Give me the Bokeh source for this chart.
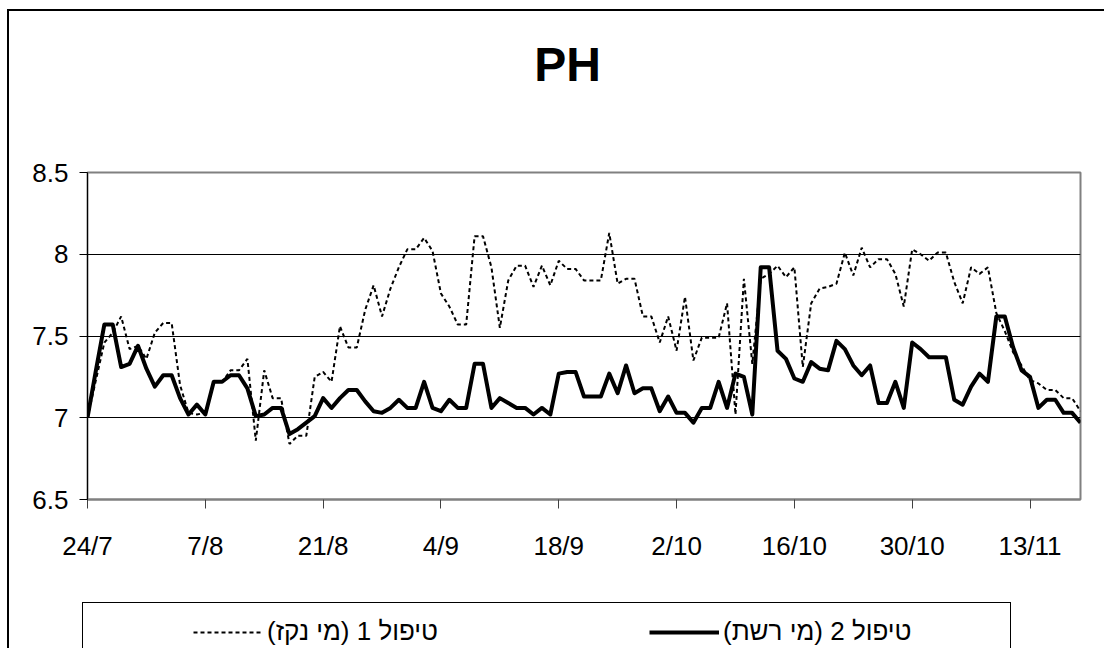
from bokeh.plotting import figure
from bokeh.layouts import column
from bokeh.models import Range1d, FixedTicker, Legend, LegendItem, Label
from bokeh.embed import file_html
from bokeh.resources import INLINE

# ---------------- data ----------------
title_text = "PH"
series_names = ["טיפול 1 (מי נקז)", "טיפול 2 (מי רשת)"]

# day index counted from 24/7 (daily readings)
days = list(range(119))

treat1 = [7.00, 7.23, 7.46, 7.52, 7.62, 7.42, 7.44, 7.36, 7.52, 7.58,
          7.58, 7.20, 7.03, 7.02, 7.03, 7.22, 7.22, 7.29, 7.29, 7.36,
          6.86, 7.29, 7.12, 7.12, 6.84, 6.89, 6.89, 7.25, 7.28, 7.22,
          7.56, 7.43, 7.43, 7.66, 7.81, 7.62, 7.79, 7.92, 8.03, 8.03,
          8.10, 8.02, 7.76, 7.68, 7.57, 7.57, 8.11, 8.11, 7.92, 7.55,
          7.84, 7.93, 7.93, 7.80, 7.93, 7.81, 7.96, 7.91, 7.91, 7.84,
          7.84, 7.84, 8.13, 7.82, 7.85, 7.85, 7.62, 7.62, 7.46, 7.62,
          7.41, 7.74, 7.35, 7.49, 7.49, 7.49, 7.70, 7.02, 7.85, 7.33,
          7.85, 7.88, 7.93, 7.86, 7.92, 7.31, 7.70, 7.79, 7.80, 7.82,
          8.01, 7.87, 8.04, 7.92, 7.97, 7.97, 7.88, 7.68, 8.03, 8.00,
          7.96, 8.01, 8.01, 7.83, 7.70, 7.92, 7.88, 7.92, 7.64, 7.53,
          7.40, 7.32, 7.23, 7.21, 7.17, 7.17, 7.12, 7.12, 7.04]

treat2 = [7.00, 7.29, 7.57, 7.57, 7.31, 7.33, 7.44, 7.30, 7.19, 7.26,
          7.26, 7.12, 7.02, 7.08, 7.02, 7.22, 7.22, 7.26, 7.26, 7.18,
          7.01, 7.02, 7.06, 7.06, 6.90, 6.93, 6.97, 7.01, 7.12, 7.06,
          7.12, 7.17, 7.17, 7.10, 7.04, 7.03, 7.06, 7.11, 7.06, 7.06,
          7.22, 7.06, 7.04, 7.11, 7.06, 7.06, 7.33, 7.33, 7.06, 7.12,
          7.09, 7.06, 7.06, 7.02, 7.06, 7.02, 7.27, 7.28, 7.28, 7.13,
          7.13, 7.13, 7.27, 7.15, 7.32, 7.15, 7.18, 7.18, 7.04, 7.13,
          7.03, 7.03, 6.97, 7.06, 7.06, 7.22, 7.06, 7.27, 7.25, 7.02,
          7.92, 7.92, 7.41, 7.36, 7.24, 7.22, 7.34, 7.30, 7.29, 7.47,
          7.42, 7.32, 7.26, 7.32, 7.09, 7.09, 7.22, 7.06, 7.46, 7.42,
          7.37, 7.37, 7.37, 7.11, 7.08, 7.19, 7.27, 7.22, 7.62, 7.62,
          7.43, 7.29, 7.25, 7.06, 7.11, 7.11, 7.03, 7.03, 6.97]

x_tick_days = [0, 14, 28, 42, 56, 70, 84, 98, 112]
x_tick_labels = ["24/7", "7/8", "21/8", "4/9", "18/9", "2/10", "16/10", "30/10", "13/11"]
y_ticks = [6.5, 7, 7.5, 8, 8.5]
y_tick_labels = ["6.5", "7", "7.5", "8", "8.5"]

FONT = "Liberation Sans"
W = 1104
H_TOP, H_MAIN, H_LEG = 100, 490, 58
FRAME_LEFT = 87   # the column aligns every strip's frame with the chart's frame

def rule(x, y, w, h):
    return f"linear-gradient(#000,#000) {x}px {y}px / {w} {h} no-repeat"

def blank_fig(h, decorations):
    f = figure(width=W, height=h, output_backend="svg", toolbar_location=None,
               x_axis_type=None, y_axis_type=None,
               x_range=Range1d(0, 1), y_range=Range1d(0, 1),
               min_border=0, min_border_left=0, min_border_right=0,
               min_border_top=0, min_border_bottom=0)
    f.outline_line_color = None
    f.grid.visible = False
    f.background_fill_alpha = 0
    f.border_fill_alpha = 0
    f.styles = {"background": ", ".join(decorations + ["#ffffff"])}
    return f

# ---------------- title strip ----------------
t = blank_fig(H_TOP, [rule(7, 9, "2px", "100%"), rule(7, 9, "100%", "2px")])
t.add_layout(Label(x=567 - FRAME_LEFT, y=36, x_units="screen", y_units="screen",
                   text=title_text, text_align="center", text_baseline="alphabetic",
                   text_font=FONT, text_font_style="bold", text_font_size="48px",
                   text_color="black"))

# ---------------- main chart ----------------
p = figure(width=W, height=H_MAIN, output_backend="svg", toolbar_location=None,
           x_range=Range1d(days[0], days[-1]), y_range=Range1d(6.5, 8.5),
           min_border_left=FRAME_LEFT, min_border_right=24, min_border_top=172 - H_TOP,
           min_border_bottom=H_TOP + H_MAIN - 499)
p.styles = {"background": ", ".join([rule(7, 0, "2px", "100%"), "#ffffff"])}
p.border_fill_alpha = 0
p.background_fill_color = "white"
p.outline_line_color = "#808080"
p.outline_line_width = 2

p.xaxis.ticker = FixedTicker(ticks=x_tick_days)
p.xaxis.major_label_overrides = {d: l for d, l in zip(x_tick_days, x_tick_labels)}
p.yaxis.ticker = FixedTicker(ticks=y_ticks)
p.yaxis.major_label_overrides = {tk: l for tk, l in zip(y_ticks, y_tick_labels)}

for ax in (p.xaxis[0], p.yaxis[0]):
    ax.major_label_text_font = FONT
    ax.major_label_text_font_size = "26px"
    ax.major_label_text_color = "black"
    ax.minor_tick_line_color = None
    ax.major_tick_in = 0

p.xaxis.major_tick_out = 9
p.xaxis.major_label_standoff = 22
p.xaxis.axis_line_color = "#808080"
p.xaxis.axis_line_width = 2
p.xaxis.major_tick_line_color = "#404040"

p.yaxis.major_tick_out = 8
p.yaxis.major_label_standoff = 11
p.yaxis.axis_line_color = "black"
p.yaxis.major_tick_line_color = "black"

p.xgrid.grid_line_color = None
p.ygrid.ticker = FixedTicker(ticks=y_ticks)
p.ygrid.grid_line_color = "black"
p.ygrid.grid_line_width = 1

p.line(days, treat1, line_color="black", line_width=2, line_dash="4 3")
p.line(days, treat2, line_color="black", line_width=4, line_join="round")

# ---------------- legend strip ----------------
box_top = 602 - (H_TOP + H_MAIN)
q = blank_fig(H_LEG, [rule(7, 0, "2px", "100%"),
                      rule(82, box_top, "929px", "1px"),
                      rule(82, box_top, "1px", "100%"),
                      rule(1010, box_top, "1px", "100%")])
# legend keys: same series, styled the same; they fall outside this strip's ranges
k1 = q.line(days, treat1, line_color="black", line_width=2, line_dash="4 3")
k2 = q.line(days, treat2, line_color="black", line_width=4)
legend = Legend(items=[LegendItem(label=series_names[0], renderers=[k1]),
                       LegendItem(label=series_names[1], renderers=[k2])],
                location=(193 - FRAME_LEFT, 1), orientation="horizontal",
                padding=0, margin=0, spacing=0,
                glyph_width=70, glyph_height=30, label_height=30,
                label_width=382, label_standoff=4,
                border_line_alpha=0, background_fill_alpha=0,
                label_text_font=FONT, label_text_font_size="26px",
                label_text_color="black")
q.add_layout(legend)

layout = column(t, p, q, spacing=0)
open("out.html", "w").write(file_html(layout, INLINE))
